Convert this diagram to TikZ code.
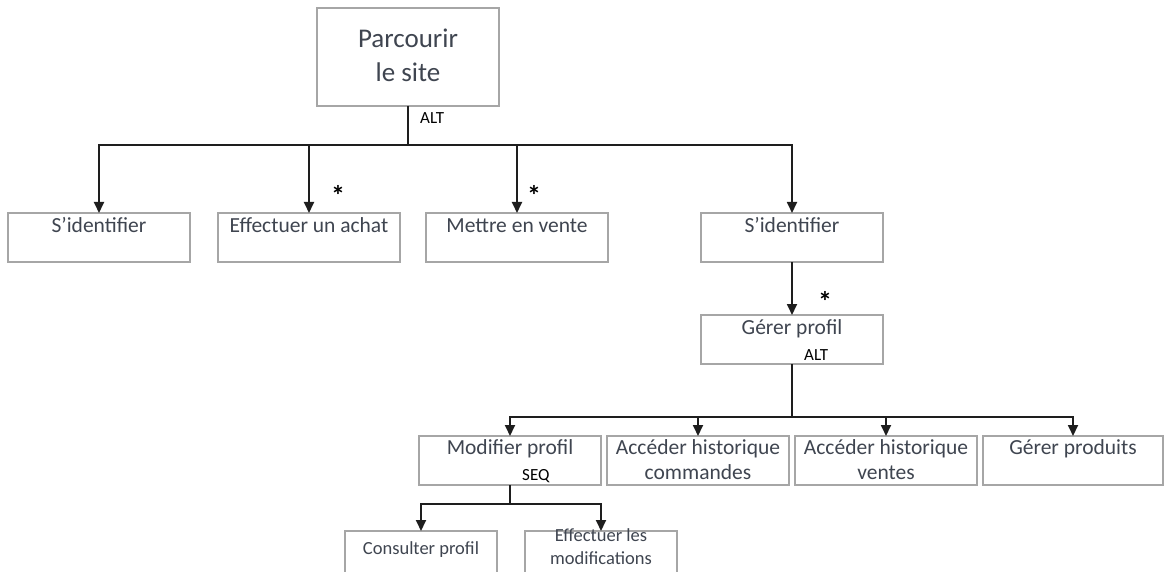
\documentclass[tikz,border=0pt]{standalone}
\usepackage{fontspec}
\setmainfont{Carlito}
\usetikzlibrary{arrows.meta}
\definecolor{boxline}{HTML}{A6A6A6}
\definecolor{ink}{HTML}{3F4550}
\definecolor{wire}{HTML}{1E1E1E}
\begin{document}
\begin{tikzpicture}[x=1pt,y=-1pt,
  box/.style={draw=boxline, line width=1.3pt, fill=white, minimum width=#1,
    minimum height=49pt, inner sep=0pt, outer sep=0pt, anchor=north west},
  box/.default=182pt,
  txt/.style={font=\fontsize{21.5}{25}\selectfont, text=ink, align=center,
    inner sep=0pt, anchor=base},
  small/.style={txt, font=\fontsize{18.5}{23}\selectfont},
  title/.style={txt, font=\fontsize{27}{34}\selectfont},
  tag/.style={font=\fontsize{17}{20}\selectfont, text=black, inner sep=0pt,
    anchor=base west},
  mult/.style={font=\bfseries\fontsize{28}{28}\selectfont, text=black,
    inner sep=0pt, anchor=base},
  link/.style={draw=wire, line width=1.8pt, line join=miter},
  arr/.style={link, -{Triangle[width=10pt,length=11pt]}}]
\useasboundingbox (0,0) rectangle (1164,572);
\clip (0,0) rectangle (1164,572);

% boxes
\node[box, minimum height=98pt] (root) at (317,8) {};
\node[box] (ident) at (8,213) {};
\node[box] (achat) at (218,213) {};
\node[box] (vente) at (426,213) {};
\node[box] (ident2) at (701,213) {};
\node[box] (gprof) at (701,315) {};
\node[box] (modif) at (419,436) {};
\node[box] (hcmd) at (607,436) {};
\node[box] (hvte) at (795,436) {};
\node[box=180pt] (gprod) at (983,436) {};
\node[box=152pt, minimum height=60pt] (cons) at (345,531) {};
\node[box=152pt, minimum height=60pt] (effm) at (525,531) {};

% box texts (multi-line texts sit on the baseline of their last line)
\node[title] (root-t) at (408,82) {Parcourir\\le site};
\node[txt] (ident-t) at (99,232) {S’identifier};
\node[txt] (achat-t) at (309,232) {Effectuer un achat};
\node[txt] (vente-t) at (517,232) {Mettre en vente};
\node[txt] (ident2-t) at (792,232) {S’identifier};
\node[txt] (gprof-t) at (792,334) {Gérer profil};
\node[txt] (modif-t) at (510,454) {Modifier profil};
\node[txt] (hcmd-t) at (698,479) {Accéder historique\\commandes};
\node[txt] (hvte-t) at (886,479) {Accéder historique\\ventes};
\node[txt] (gprod-t) at (1073,454) {Gérer produits};
\node[small] (cons-t) at (421,554) {Consulter profil};
\node[small] (effm-t) at (601,564) {Effectuer les\\modifications};

% operators and multiplicities
\node[tag] (alt1) at (420,124) {ALT};
\node[tag] (alt2) at (804,360) {ALT};
\node[tag] (seq) at (522,480) {SEQ};
\node[mult] (m1) at (338,206) {*};
\node[mult] (m2) at (534,206) {*};
\node[mult] (m3) at (825,311) {*};

% connectors
\coordinate (bus1) at (408,145);
\draw[link] (root.south) -- (bus1);
\foreach \t in {ident,achat,vente,ident2}
  \draw[arr] (bus1) -| (\t.north);
\draw[arr] (ident2.south) -- (gprof.north);
\coordinate (bus2) at (792,417);
\draw[link] (gprof.south) -- (bus2);
\foreach \t in {modif,hcmd,hvte,gprod}
  \draw[arr] (bus2) -| (\t.north);
\coordinate (bus3) at (510,504);
\draw[link] (modif.south) -- (bus3);
\foreach \t in {cons,effm}
  \draw[arr] (bus3) -| (\t.north);
\end{tikzpicture}
\end{document}
